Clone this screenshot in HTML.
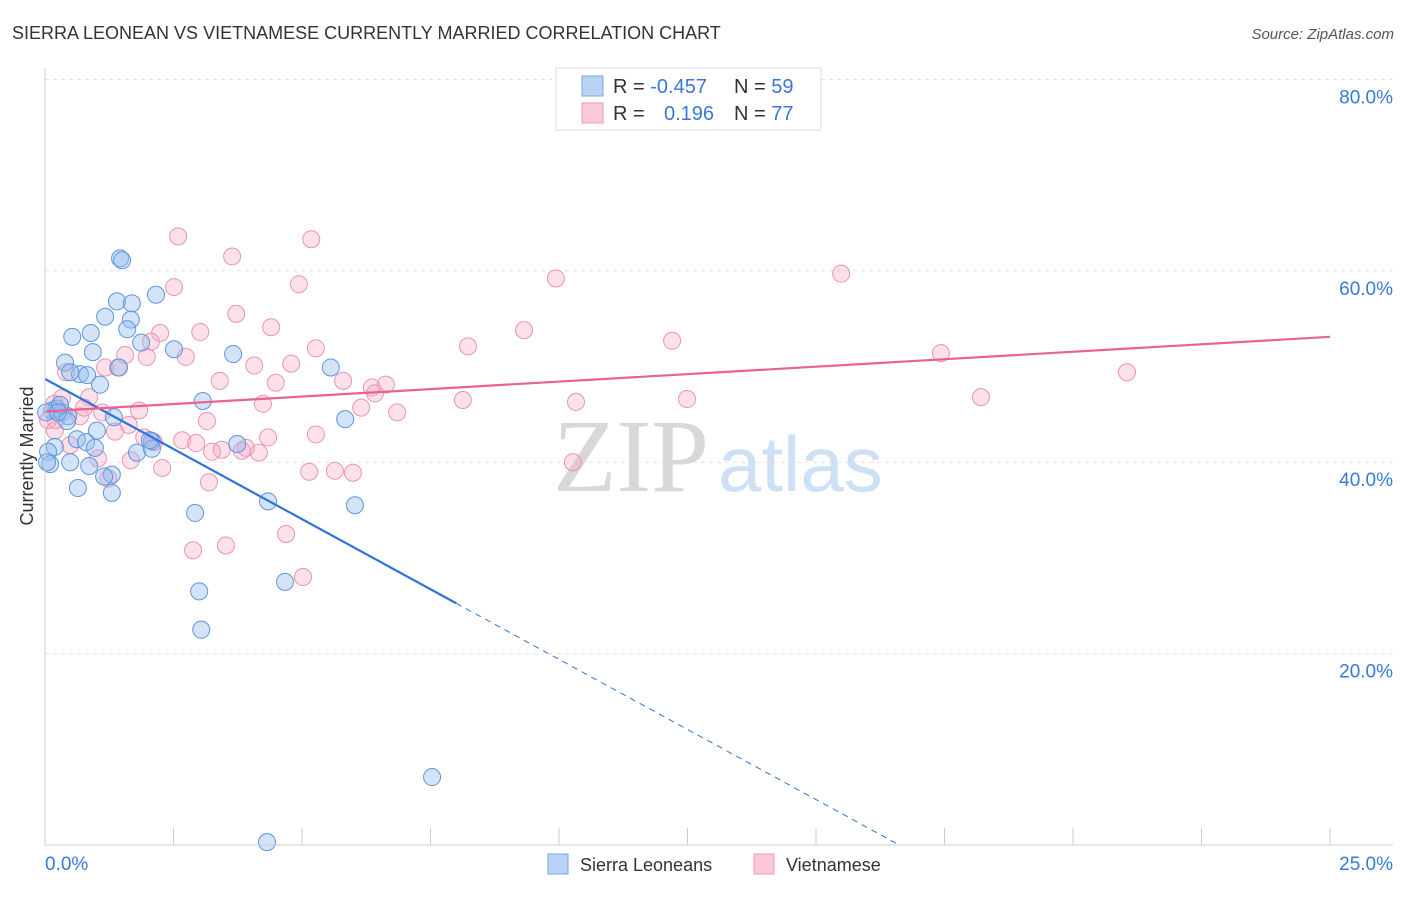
<!DOCTYPE html>
<html><head><meta charset="utf-8"><style>
body{margin:0;background:#fff;font-family:"Liberation Sans",sans-serif;}
svg text{font-family:"Liberation Sans",sans-serif;}
</style></head><body>
<svg id="chart" width="1406" height="892" xmlns="http://www.w3.org/2000/svg">
<text x="12" y="39" font-size="18" fill="#333">SIERRA LEONEAN VS VIETNAMESE CURRENTLY MARRIED CORRELATION CHART</text>
<text x="1394" y="39" font-size="15" fill="#555" text-anchor="end" font-style="italic">Source: ZipAtlas.com</text>
<g id="grid"></g>
<text x="553" y="491" font-size="104" fill="#d8d8d8" style="font-family:'Liberation Serif',serif">ZIP</text>
<text x="718" y="491" font-size="78" fill="#cfe0f4">atlas</text>
<g id="pts"></g>
<g id="lines"></g>
<g id="axes"></g>
<text transform="translate(33,456) rotate(-90)" font-size="18" fill="#333" text-anchor="middle">Currently Married</text>
<g>
<rect x="556" y="68" width="265" height="62" fill="#fff" stroke="#ddd"/>
<rect x="582" y="76" width="21" height="20" fill="#b9d3f5" stroke="#7aa6e6"/>
<text x="613" y="93" font-size="20" fill="#333">R = <tspan fill="#3a78d8">-0.457</tspan></text>
<text x="734" y="93" font-size="20" fill="#333">N = <tspan fill="#3a78d8">59</tspan></text>
<rect x="582" y="103" width="21" height="20" fill="#fbc8d8" stroke="#ee9ab6"/>
<text x="613" y="120" font-size="20" fill="#333">R = </text>
<text x="664" y="120" font-size="20" fill="#3a78d8">0.196</text>
<text x="734" y="120" font-size="20" fill="#333">N = <tspan fill="#3a78d8">77</tspan></text>
</g>
<g>
<rect x="548" y="854" width="20" height="20" fill="#b9d3f5" stroke="#7aa6e6"/>
<text x="580" y="871" font-size="18" fill="#333">Sierra Leoneans</text>
<rect x="754" y="854" width="20" height="20" fill="#fbc8d8" stroke="#ee9ab6"/>
<text x="786" y="871" font-size="18" fill="#333">Vietnamese</text>
</g>
</svg>
<script>
const blueX=[1.46,1.50,2.16,1.40,1.69,1.17,1.67,1.60,0.53,0.89,1.87,2.51,0.93,3.66,0.39,1.44,0.68,0.82,5.56,1.07,3.07,0.23,0.14,0.33,0.45,1.34,0.43,5.84,1.01,0.62,0.80,2.08,3.74,0.97,0.19,0.06,1.79,2.08,0.49,0.10,0.86,1.30,1.15,0.64,1.30,2.92,4.34,6.03,3.00,4.67,3.04,7.53,4.32,0.04,0.29,0.02,2.04,0.49,0.25];
const blueY=[61.3,61.1,57.5,56.8,56.6,55.2,54.9,53.9,53.1,53.5,52.5,51.8,51.5,51.3,50.4,49.9,49.2,49.1,49.9,48.1,46.4,45.6,45.4,45.2,44.8,44.7,44.3,44.5,43.3,42.4,42.1,42.2,41.9,41.5,41.6,41.1,41.0,41.4,40.0,39.8,39.6,38.7,38.5,37.3,36.8,34.7,35.9,35.5,26.5,27.5,22.5,7.1,0.3,40.0,46.0,45.2,42.3,49.4,45.2];
const pinkX=[2.59,5.18,3.64,9.94,15.49,2.51,4.94,3.72,4.40,9.32,2.24,3.02,2.06,12.20,8.23,5.27,2.74,1.56,1.98,17.43,21.05,1.17,1.42,0.41,4.79,4.07,3.40,4.49,5.80,6.36,6.63,6.42,18.21,8.13,10.33,12.49,4.24,6.15,6.85,1.83,0.86,0.33,0.18,1.11,0.68,0.21,3.15,1.63,1.36,5.27,1.93,2.67,4.34,2.12,2.94,3.91,3.25,3.44,4.16,1.03,1.67,3.83,2.28,5.14,5.64,5.99,10.27,1.23,3.19,2.88,3.52,4.69,5.02,0.06,0.49,0.76,0.19];
const pinkY=[63.6,63.3,61.5,59.2,59.7,58.3,58.6,55.5,54.1,53.8,53.5,53.6,52.6,52.7,52.1,51.9,51.0,51.2,51.0,51.4,49.4,49.9,49.9,49.4,50.3,50.1,48.5,48.3,48.5,47.8,48.1,47.2,46.8,46.5,46.3,46.6,46.1,45.7,45.2,45.4,46.8,46.7,46.1,45.2,44.8,44.4,44.3,43.9,43.2,42.9,42.6,42.3,42.6,42.1,42.0,41.5,41.1,41.3,41.0,40.4,40.2,41.2,39.4,39.0,39.1,38.9,40.0,38.3,37.9,30.8,31.3,32.5,28.0,44.4,41.8,45.7,43.3];
const yTicks=[20,40,60,80];
const yTickLabels=["20.0%","40.0%","60.0%","80.0%"];
const xTicks=[0,2.5,5,7.5,10,12.5,15,17.5,20,22.5,25];
const blueTrend=[48.7,-2.93]; // intercept, slope
const pinkTrend=[45.3,0.312];
const NS="http://www.w3.org/2000/svg";
const sx=v=>45+v*51.4, sy=v=>845-v*9.57;
function mk(tag,attrs,parent){const e=document.createElementNS(NS,tag);for(const k in attrs)e.setAttribute(k,attrs[k]);parent.appendChild(e);return e;}
const grid=document.getElementById('grid'),axes=document.getElementById('axes'),pts=document.getElementById('pts'),lines=document.getElementById('lines');
yTicks.forEach((t,i)=>{
 const l=mk('line',{x1:45,x2:1393,y1:sy(t),y2:sy(t),stroke:'#e2e2e2','stroke-dasharray':'4,4'},grid);
 
 
 const tx=mk('text',{x:1393,y:sy(t)+24,'font-size':19,fill:'#3a78d8','text-anchor':'end'},axes);
 tx.textContent=yTickLabels[i];
 
 
});
mk('line',{x1:45,x2:45,y1:68,y2:845,stroke:'#ccc'},axes);
mk('line',{x1:45,x2:1393,y1:845,y2:845,stroke:'#ccc'},axes);
xTicks.forEach(t=>{const l=mk('line',{x1:sx(t),x2:sx(t),y1:828,y2:845,stroke:'#ccc'},axes);
 
 });
const x0=mk('text',{x:45,y:870,'font-size':19,fill:'#3a78d8'},axes);x0.textContent='0.0%';


const x1=mk('text',{x:1393,y:870,'font-size':19,fill:'#3a78d8','text-anchor':'end'},axes);x1.textContent='25.0%';


pinkX.forEach((x,i)=>{const c=mk('circle',{cx:sx(x),cy:sy(pinkY[i]),r:8.5,fill:'rgba(246,170,196,0.35)',stroke:'#ec94b2','stroke-width':1},pts);
 
 });
blueX.forEach((x,i)=>{const c=mk('circle',{cx:sx(x),cy:sy(blueY[i]),r:8.5,fill:'rgba(150,188,238,0.42)',stroke:'#5f95de','stroke-width':1},pts);
 
 });
const bAt=x=>blueTrend[0]+blueTrend[1]*x, pAt=x=>pinkTrend[0]+pinkTrend[1]*x;
const xz=-blueTrend[0]/blueTrend[1];
let l1=mk('line',{x1:sx(0),y1:sy(bAt(0)),x2:sx(8),y2:sy(bAt(8)),stroke:'#2e74d8','stroke-width':2.2},lines);


let l2=mk('line',{x1:sx(8),y1:sy(bAt(8)),x2:sx(xz),y2:sy(0),stroke:'#2e74d8','stroke-width':1,'stroke-dasharray':'6,5'},lines);


let l3=mk('line',{x1:sx(0),y1:sy(pAt(0)),x2:sx(25),y2:sy(pAt(25)),stroke:'#e8638e','stroke-width':2.2},lines);


</script>
</body></html>
